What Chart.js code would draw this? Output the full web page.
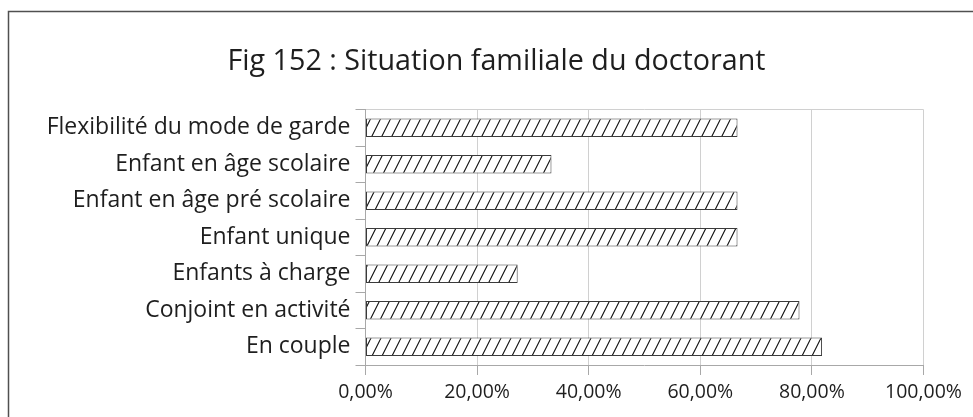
<!DOCTYPE html>
<html>
<head>
<meta charset="utf-8">
<script src="https://cdn.jsdelivr.net/npm/chart.js@4/dist/chart.umd.min.js"></script>
<style>
  html, body { margin: 0; padding: 0; background: #ffffff; }
  #wrap { width: 973px; height: 417px; position: relative; }
</style>
</head>
<body>
<div id="wrap"><canvas id="chart"></canvas></div>
<script>
// Categories, listed top to bottom
const categories = [
  'Flexibilité du mode de garde',
  'Enfant en âge scolaire',
  'Enfant en âge pré scolaire',
  'Enfant unique',
  'Enfants à charge',
  'Conjoint en activité',
  'En couple'
];
// Share of respondents, in percent
const shares = [66.67, 33.33, 66.67, 66.67, 27.27, 77.78, 81.82];
// Value axis ticks, in percent
const xTicks = [0, 20, 40, 60, 80, 100];
const chartTitle = 'Fig 152 : Situation familiale du doctorant';

const FONT = "'Open Sans', 'DejaVu Sans', sans-serif";
const TEXT = '#1e1e1e';
const GRID = '#d0d0d0';
const AXIS = '#a8a8a8';

// Wide upward diagonal hatch fill
function makeHatch() {
  const w = 10, h = 20;
  const c = document.createElement('canvas');
  c.width = w; c.height = h;
  const g = c.getContext('2d');
  g.fillStyle = '#ffffff';
  g.fillRect(0, 0, w, h);
  g.strokeStyle = '#111111';
  g.lineWidth = 1.1;
  g.beginPath();
  for (const dx of [-w, 0, w]) {
    g.moveTo(dx, h);
    g.lineTo(dx + w, 0);
  }
  g.stroke();
  return g.createPattern(c, 'repeat');
}

// Outer frame (runs off the right and bottom edges) and the centred title
const framePlugin = {
  id: 'frame',
  afterDraw(chart) {
    const ctx = chart.ctx;
    ctx.save();
    ctx.strokeStyle = '#505050';
    ctx.lineWidth = 1.5;
    ctx.strokeRect(8.5, 11.5, chart.width + 20, chart.height + 20);
    ctx.fillStyle = TEXT;
    ctx.font = '28.7px ' + FONT;
    ctx.textAlign = 'center';
    ctx.textBaseline = 'alphabetic';
    ctx.fillText(chartTitle, 496.5, 70);
    ctx.restore();
  }
};

const fmtPct = v => v.toFixed(2).replace('.', ',') + '%';

new Chart(document.getElementById('chart'), {
  type: 'bar',
  data: {
    labels: categories,
    datasets: [{
      data: shares,
      backgroundColor: makeHatch(),
      borderColor: '#3a3a3a',
      borderWidth: 1,
      borderSkipped: false,
      barPercentage: 0.51,
      categoryPercentage: 1.0
    }]
  },
  options: {
    indexAxis: 'y',
    responsive: true,
    maintainAspectRatio: false,
    animation: false,
    devicePixelRatio: 1,
    layout: { padding: { left: 0, right: 49.5, top: 109.5, bottom: 0 } },
    plugins: {
      legend: { display: false },
      tooltip: { enabled: false },
      title: { display: false }
    },
    scales: {
      x: {
        min: 0,
        max: 100,
        afterBuildTicks(scale) { scale.ticks = xTicks.map(v => ({ value: v })); },
        afterFit(scale) { scale.height = 52; },
        grid: { color: GRID, tickColor: AXIS, tickLength: 10, lineWidth: 1 },
        border: { display: true, color: AXIS, width: 1 },
        ticks: {
          color: TEXT,
          padding: 6,
          maxRotation: 0,
          font: { family: FONT, size: 19.5 },
          callback: v => fmtPct(v)
        }
      },
      y: {
        afterFit(scale) { scale.width = 365.5; },
        grid: {
          offset: true,
          drawOnChartArea: true,
          color: ctx => ctx.index === 0 ? GRID : 'rgba(0,0,0,0)',
          tickColor: AXIS,
          tickLength: 10
        },
        border: { display: true, color: AXIS, width: 1 },
        ticks: {
          color: TEXT,
          padding: 5,
          autoSkip: false,
          font: { family: FONT, size: 23 }
        }
      }
    }
  },
  plugins: [framePlugin]
});
</script>
</body>
</html>
